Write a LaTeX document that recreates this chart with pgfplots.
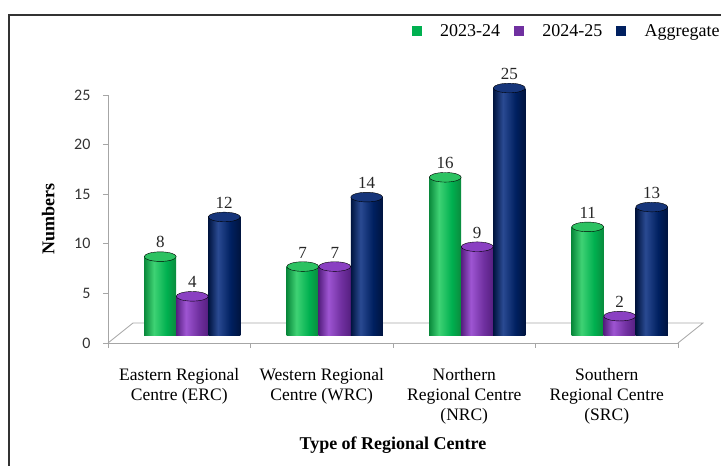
\documentclass[border=0pt]{standalone}
\usepackage{fontspec}
\setmainfont{Liberation Serif}
\newfontfamily\calibri{Carlito}
\usepackage{pgfplots}
\pgfplotsset{compat=1.18}

% series colours (legend swatches and cylinder tones)
\definecolor{gA}{HTML}{00B050}
\definecolor{gD}{HTML}{0A8A3C}
\definecolor{gL}{HTML}{3FD274}
\definecolor{gT}{HTML}{2CC262}
\definecolor{pA}{HTML}{7030A0}
\definecolor{pD}{HTML}{561F80}
\definecolor{pL}{HTML}{9E55D2}
\definecolor{pT}{HTML}{8A40C2}
\definecolor{nA}{HTML}{002060}
\definecolor{nD}{HTML}{00143F}
\definecolor{nL}{HTML}{2A4A92}
\definecolor{nT}{HTML}{16357A}
\definecolor{axgray}{HTML}{A6A6A6}

% horizontal tone ramps that make the bars look like cylinders
\pgfdeclarehorizontalshading{cylgreen}{100bp}{color(0bp)=(gD); color(25bp)=(gD); color(40bp)=(gL); color(60bp)=(gA); color(75bp)=(gD); color(100bp)=(gD)}
\pgfdeclarehorizontalshading{cylpurple}{100bp}{color(0bp)=(pD); color(25bp)=(pD); color(40bp)=(pL); color(60bp)=(pA); color(75bp)=(pD); color(100bp)=(pD)}
\pgfdeclarehorizontalshading{cylnavy}{100bp}{color(0bp)=(nD); color(25bp)=(nD); color(40bp)=(nL); color(60bp)=(nA); color(75bp)=(nD); color(100bp)=(nD)}

\newcommand\txt{\fontsize{17.5}{20}\selectfont}

% one cylinder body: #1 bar shift, #2 shading, #3 coordinate
\newcommand\cyl[3]{%
  \addplot[ybar, bar width=32pt, bar shift=#1, draw=none, shading=#2, yshift=7pt,
    forget plot, nodes near coords,
    every node near coord/.append style={xshift=#1}]
    coordinates {#3};}

% square legend swatch followed by a gap
\newcommand\swatch[1]{\addlegendimage{legend image code/.code={%
  \fill[#1] (0pt,-4.5pt) rectangle (9pt,4.5pt);
  \path[draw=none,fill=none] (0pt,0pt) rectangle (26pt,0pt);}}}

\begin{document}
\begin{tikzpicture}
\useasboundingbox (0,0) rectangle (721pt,466pt);
% outer frame
\draw[line width=1.3pt, black!80] (9pt,0) -- (9pt,451pt) -- (721pt,451pt);
\begin{axis}[
  at={(108pt,123pt)}, anchor=south west,
  scale only axis, width=570pt, height=248pt,
  xmin=-0.5, xmax=3.5, ymin=0, ymax=25,
  clip=false,
  axis x line*=bottom, axis y line*=left,
  axis line style={draw=axgray, line width=0.8pt},
  tick align=outside, major tick length=5pt,
  tick style={draw=axgray, line width=0.8pt},
  xtick={-0.5,0.5,1.5,2.5,3.5}, xticklabels={},
  extra x ticks={0,1,2,3},
  extra x tick labels={{Eastern Regional\\Centre (ERC)},{Western Regional\\Centre (WRC)},{Northern\\Regional Centre\\(NRC)},{Southern\\Regional Centre\\(SRC)}},
  extra x tick style={major tick length=0pt,
    xticklabel style={font=\txt, align=center, anchor=north, yshift=-22pt}},
  ytick={0,5,...,25},
  /pgf/number format/assume math mode=true,
  yticklabel style={font=\calibri\fontsize{16}{16}\selectfont, text=black!80, xshift=-9pt},
  ylabel={Numbers},
  ylabel style={font=\bfseries\fontsize{18}{18}\selectfont, at={(axis description cs:-0.105,0.5)}, anchor=center},
  xlabel={Type of Regional Centre},
  xlabel style={font=\bfseries\fontsize{18}{18}\selectfont, at={(axis description cs:0.5,-0.412)}, anchor=center},
  legend columns=3,
  legend style={draw=none, fill=none, inner sep=0pt, font=\fontsize{18}{18}\selectfont,
    at={(axis description cs:0.533,1.258)}, anchor=west,
    /tikz/every even column/.append style={column sep=12pt}},
  every node near coord/.append style={font=\fontsize{17}{17}\selectfont, text=black!85, yshift=5pt},
]
% 3-D floor outline
\draw[axgray, line width=0.8pt] (axis cs:-0.5,0) -- ++(25pt,20pt) -- ([xshift=25pt,yshift=20pt]axis cs:3.5,0) -- (axis cs:3.5,0);

% legend swatches
\swatch{gA}
\addlegendentry{2023-24}
\swatch{pA}
\addlegendentry{2024-25}
\swatch{nA}
\addlegendentry{Aggregate}

% 2023-24
\cyl{-19pt}{cylgreen}{(0,8)}
\cyl{-19pt}{cylgreen}{(1,7)}
\cyl{-19pt}{cylgreen}{(2,16)}
\cyl{-19pt}{cylgreen}{(3,11)}
% 2024-25
\cyl{13pt}{cylpurple}{(0,4)}
\cyl{13pt}{cylpurple}{(1,7)}
\cyl{13pt}{cylpurple}{(2,9)}
\cyl{13pt}{cylpurple}{(3,2)}
% Aggregate
\cyl{45pt}{cylnavy}{(0,12)}
\cyl{45pt}{cylnavy}{(1,14)}
\cyl{45pt}{cylnavy}{(2,25)}
\cyl{45pt}{cylnavy}{(3,13)}

% cylinder tops
\addplot[only marks, forget plot, mark=*, mark size=16pt, yshift=7pt,
  mark options={xshift=-19pt, yscale=0.3, fill=gT, draw=none}]
  coordinates {(0,8) (1,7) (2,16) (3,11)};
\addplot[only marks, forget plot, mark=*, mark size=16pt, yshift=7pt,
  mark options={xshift=13pt, yscale=0.3, fill=pT, draw=none}]
  coordinates {(0,4) (1,7) (2,9) (3,2)};
\addplot[only marks, forget plot, mark=*, mark size=16pt, yshift=7pt,
  mark options={xshift=45pt, yscale=0.3, fill=nT, draw=none}]
  coordinates {(0,12) (1,14) (2,25) (3,13)};
\end{axis}
\end{tikzpicture}
\end{document}
